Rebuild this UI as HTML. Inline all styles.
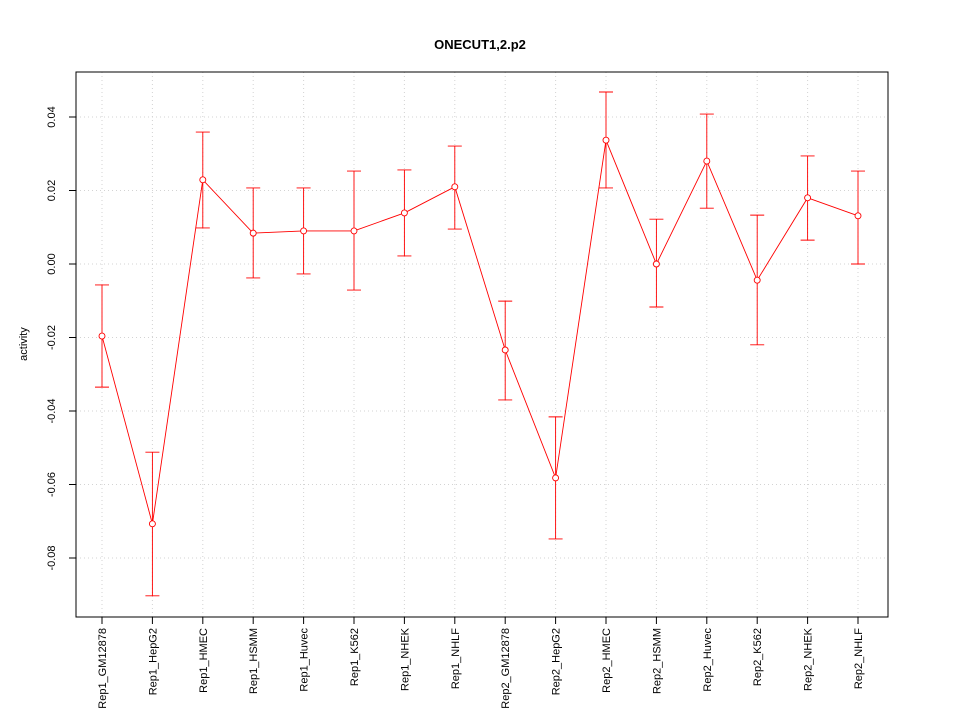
<!DOCTYPE html>
<html><head><meta charset="utf-8"><style>body{margin:0;background:#fff}svg{display:block}text{font-family:"Liberation Sans",sans-serif}</style></head>
<body>
<svg id="chart" width="960" height="720" xmlns="http://www.w3.org/2000/svg">
<rect width="960" height="720" fill="#fff"/>
<text x="480" y="49" text-anchor="middle" font-size="13" font-weight="bold">ONECUT1,2.p2</text>
<text transform="translate(27,344) rotate(-90)" text-anchor="middle" font-size="11">activity</text>
<g id="grid"></g><g id="axes"></g><g id="series"></g>
<rect x="76" y="72" width="812" height="545" fill="none" stroke="#000"/>
</svg>
<script>
const categories=["Rep1_GM12878","Rep1_HepG2","Rep1_HMEC","Rep1_HSMM","Rep1_Huvec","Rep1_K562","Rep1_NHEK","Rep1_NHLF","Rep2_GM12878","Rep2_HepG2","Rep2_HMEC","Rep2_HSMM","Rep2_Huvec","Rep2_K562","Rep2_NHEK","Rep2_NHLF"];
const values=[-0.0196,-0.0707,0.0229,0.0084,0.0090,0.0090,0.0139,0.0210,-0.0234,-0.0582,0.0337,0.0000,0.0280,-0.0044,0.0180,0.0131];
const upper=[-0.0057,-0.0512,0.0359,0.0207,0.0207,0.0253,0.0256,0.0321,-0.0101,-0.0416,0.0468,0.0122,0.0408,0.0133,0.0294,0.0253];
const lower=[-0.0335,-0.0903,0.0098,-0.0038,-0.0027,-0.0071,0.0022,0.0095,-0.0370,-0.0748,0.0207,-0.0117,0.0152,-0.0220,0.0065,0.0000];
const yTicks=[-0.08,-0.06,-0.04,-0.02,0.00,0.02,0.04];
const yTickLabels=["-0.08","-0.06","-0.04","-0.02","0.00","0.02","0.04"];
const NS="http://www.w3.org/2000/svg";
const x=i=>102+i*(858-102)/15;
const y=v=>264-v*3675;
function mk(parent,tag,attrs){const e=document.createElementNS(NS,tag);for(const k in attrs)e.setAttribute(k,attrs[k]);document.getElementById(parent).appendChild(e);return e;}
yTicks.forEach((t,i)=>{
  let g=mk('grid','line',{x1:76,x2:888,y1:y(t),y2:y(t),stroke:'#d3d3d3','stroke-dasharray':'1,3'});
  
  
  let tk=mk('axes','line',{x1:69,x2:76,y1:y(t),y2:y(t),stroke:'#000'});
  
  
  let tl=mk('axes','text',{transform:`translate(55,${y(t)}) rotate(-90)`,'text-anchor':'middle','font-size':'11'});
  tl.textContent=yTickLabels[i];
  
  
});
categories.forEach((c,i)=>{
  let g=mk('grid','line',{x1:x(i),x2:x(i),y1:72,y2:617,stroke:'#d3d3d3','stroke-dasharray':'1,3'});
  
  
  let tk=mk('axes','line',{x1:x(i),x2:x(i),y1:617,y2:624,stroke:'#000'});
  
  
  let tl=mk('axes','text',{transform:`translate(${x(i)+4},628) rotate(-90)`,'text-anchor':'end','font-size':'11'});
  tl.textContent=c;
  
  
});
let pl=mk('series','polyline',{points:values.map((v,i)=>x(i)+','+y(v)).join(' '),fill:'none',stroke:'#ff0000','stroke-width':0.9});


values.forEach((v,i)=>{
  let e=mk('series','path',{d:`M${x(i)},${y(upper[i])}V${y(lower[i])}M${x(i)-7},${y(upper[i])}H${x(i)+7}M${x(i)-7},${y(lower[i])}H${x(i)+7}`,stroke:'#ff0000',fill:'none','stroke-width':0.9});
  
  
  let p=mk('series','circle',{cx:x(i),cy:y(v),r:3,fill:'#fff',stroke:'#ff0000','stroke-width':0.9});
  
  
});
</script>
</body></html>
